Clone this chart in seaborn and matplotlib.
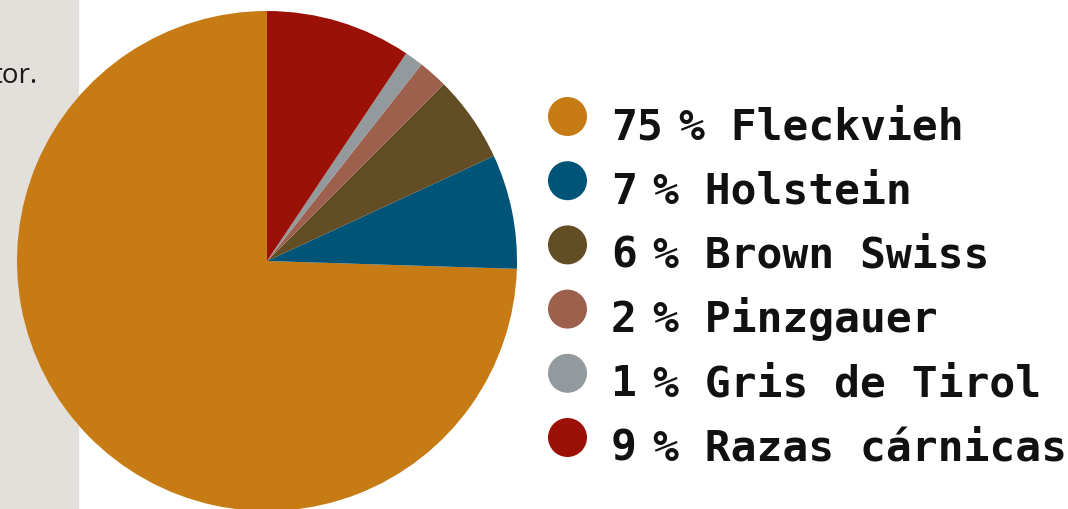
import matplotlib
matplotlib.use('Agg')
import matplotlib.pyplot as plt
import matplotlib.patches as mpatches
import seaborn as sns

# ===========================================================
# DATA
# ===========================================================
breeds  = ['Fleckvieh', 'Holstein', 'Brown Swiss', 'Pinzgauer', 'Gris de Tirol', 'Razas cárnicas']
shares  = [74.5, 7.4, 5.6, 1.9, 1.2, 9.4]
labels  = ['75', '7', '6', '2', '1', '9']
colors  = ['#C67B15', '#005478', '#634D24', '#9D604D', '#939A9D', '#9B1107']

W, H = 1068, 510
FS = 31                          # legend font size (pt)
ADV = 0.602 * FS * 100 / 72      # mono advance in px

sns.set_theme(style='white')
plt.rcParams['font.family'] = ['DejaVu Sans Mono', 'DejaVu Sans']

fig = plt.figure(figsize=(W / 100, H / 100), dpi=100)
ax = fig.add_axes([0, 0, 1, 1])

# grey side panel + cut-off text
ax.add_patch(mpatches.Rectangle((0, 0), 78, H, color='#E3DFDA', zorder=0))
ax.text(38, H - 83, 'tor.', ha='right', va='baseline', fontsize=20,
        family=['Open Sans', 'DejaVu Sans'], color='#1A1A1A')

# pie, pixel coordinates (y up)
ax.pie(shares, colors=colors, startangle=90, counterclock=True,
       center=(267, H - 262), radius=250, frame=True,
       wedgeprops=dict(linewidth=0))

# legend: dot, number, thin gap, "% name"
row_y = [117.5, 181.7, 245.9, 310.1, 374.3, 438.5]
for y, c, n, b in zip(row_y, colors, labels, breeds):
    ax.add_patch(mpatches.Circle((567.5, H - y), 19.5, color=c, linewidth=0))
    base = H - y - 22
    ax.text(611, base, n, ha='left', va='baseline',
            fontsize=FS, fontweight='bold', color='#111111')
    ax.text(611 + len(n) * ADV + 16, base, f'% {b}', ha='left', va='baseline',
            fontsize=FS, fontweight='bold', color='#111111')

ax.set_xlim(0, W)
ax.set_ylim(0, H)
ax.set_aspect('auto')
ax.axis('off')

plt.savefig('out.png', dpi=100)
